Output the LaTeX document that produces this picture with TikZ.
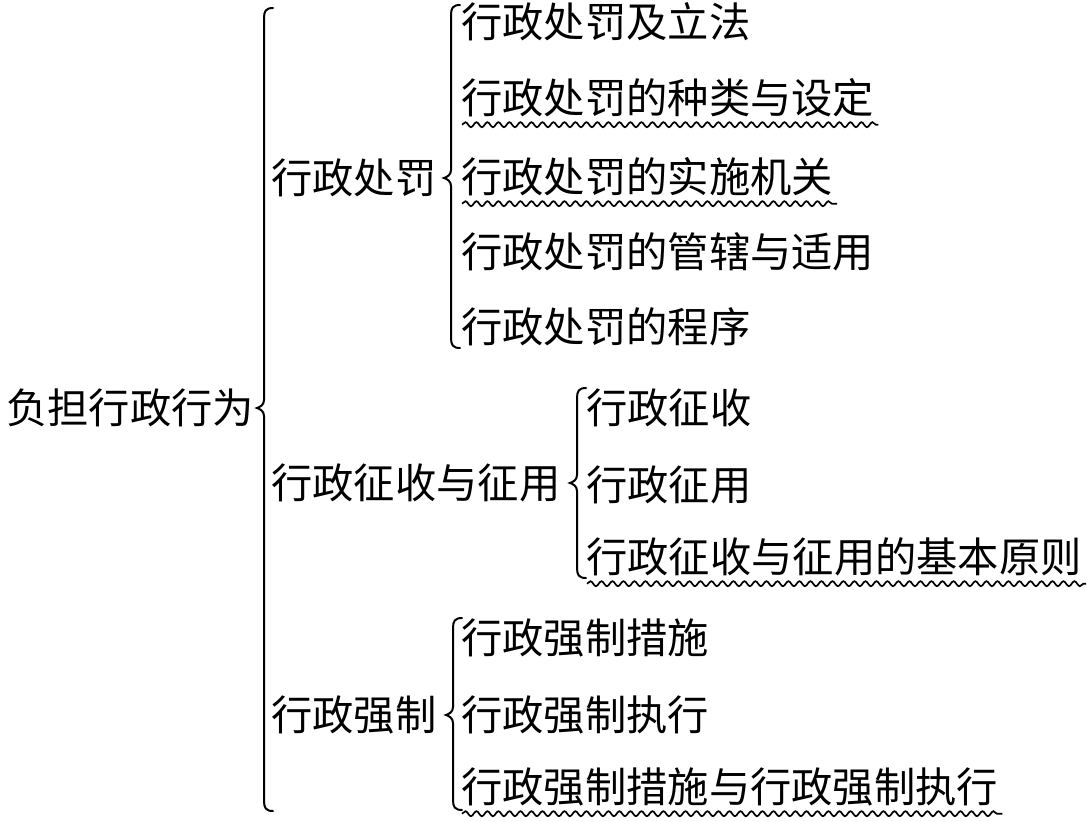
\documentclass[tikz,border=0pt]{standalone}
\usepackage{fontspec}
\setmainfont{Noto Sans CJK SC}
\usetikzlibrary{decorations.pathmorphing}
\newcommand\bracepath[4]{% x, top, mid, bottom
  \draw[bracestyle] ({#1+9},{#2}) .. controls ({#1+2},{#2}) and ({#1},{#2+3}) .. ({#1},{#2+10})
    -- ({#1},{#3-8}) .. controls ({#1},{#3-3}) and ({#1-4},{#3-1}) .. ({#1-7},{#3})
    .. controls ({#1-4},{#3+1}) and ({#1},{#3+3}) .. ({#1},{#3+8})
    -- ({#1},{#4-10}) .. controls ({#1},{#4-3}) and ({#1+2},{#4}) .. ({#1+9},{#4});}
\newcommand\wavyunder[1]{%
  \draw[wavy] ([yshift=-6pt,xshift=1pt]#1.south west) -- ([yshift=-6pt,xshift=4pt]#1.south east);}
\begin{document}
\begin{tikzpicture}[x=1pt,y=-1pt,
  lbl/.style={anchor=west, inner sep=0pt, font=\fontsize{41.3}{45}\selectfont,
    text height=36pt, text depth=5pt},
  bracestyle/.style={line width=2pt, line cap=round},
  wavy/.style={line width=1.7pt, decorate,
    decoration={snake, segment length=11pt, amplitude=2.5pt}}]
\useasboundingbox (0,0) rectangle (1088,822);
\node[lbl] (root) at (6,408) {负担行政行为};
\node[lbl] (p) at (271,178) {行政处罚};
\node[lbl] (p1) at (461,22) {行政处罚及立法};
\node[lbl] (p2) at (461,98) {行政处罚的种类与设定};
\node[lbl] (p3) at (461,177) {行政处罚的实施机关};
\node[lbl] (p4) at (461,252) {行政处罚的管辖与适用};
\node[lbl] (p5) at (461,327) {行政处罚的程序};
\node[lbl] (z) at (271,483) {行政征收与征用};
\node[lbl] (z1) at (586,408) {行政征收};
\node[lbl] (z2) at (586,485) {行政征用};
\node[lbl] (z3) at (586,557) {行政征收与征用的基本原则};
\node[lbl] (q) at (271,715) {行政强制};
\node[lbl] (q1) at (461,638) {行政强制措施};
\node[lbl] (q2) at (461,715) {行政强制执行};
\node[lbl] (q3) at (461,787) {行政强制措施与行政强制执行};
\bracepath{264}{8}{408}{811}
\bracepath{451}{5}{178}{348}
\bracepath{577}{388}{483}{578}
\bracepath{453}{618}{715}{810}
\wavyunder{p2}
\wavyunder{p3}
\wavyunder{z3}
\wavyunder{q3}
\end{tikzpicture}
\end{document}
